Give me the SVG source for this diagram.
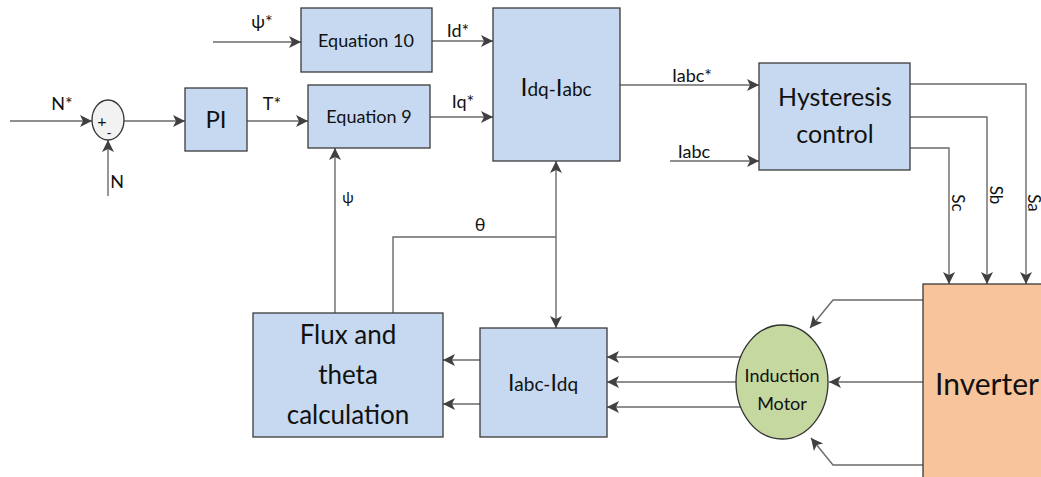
<svg xmlns="http://www.w3.org/2000/svg" width="1041" height="477" viewBox="0 0 1041 477">
  <defs>
    <marker id="arr" markerUnits="userSpaceOnUse" markerWidth="14" markerHeight="14" refX="12" refY="6" orient="auto">
      <path d="M0,0 L12,6 L0,12 L3,6 z" fill="#404040"/>
    </marker>
    <style>
      .box { fill: #c6d9f0; stroke: #3a3a3a; stroke-width: 1.3; }
      .ln { fill: none; stroke: #6a6a6a; stroke-width: 1.4; }
      .ar { marker-end: url(#arr); }
      text { font-family: Lato, "Open Sans", "Liberation Sans", sans-serif; fill: #111; }
      .c { text-anchor: middle; }
      .lbl { font-size: 18px; }
    </style>
  </defs>

  <!-- connectors -->
  <g id="connectors">
    <line class="ln ar" x1="10" y1="121" x2="92" y2="121"/>
    <line class="ln ar" x1="108" y1="196" x2="108" y2="140"/>
    <line class="ln ar" x1="124" y1="121" x2="185" y2="121"/>
    <line class="ln ar" x1="247" y1="121" x2="308" y2="121"/>
    <line class="ln ar" x1="213" y1="42" x2="301" y2="42"/>
    <line class="ln ar" x1="432" y1="41" x2="493" y2="41"/>
    <line class="ln ar" x1="430" y1="117" x2="493" y2="117"/>
    <line class="ln ar" x1="620" y1="85" x2="759" y2="85"/>
    <line class="ln ar" x1="670" y1="161" x2="759" y2="161"/>
    <!-- switching signals to the inverter -->
    <polyline class="ln ar" points="910,84 1026,84 1026,284"/>
    <polyline class="ln ar" points="910,117 987,117 987,284"/>
    <polyline class="ln ar" points="910,148 949,148 949,284"/>
    <!-- inverter to motor -->
    <polyline class="ln ar" points="923,300 833,300 810,328"/>
    <line class="ln ar" x1="923" y1="382" x2="829" y2="382"/>
    <polyline class="ln ar" points="923,465 833,465 811,438"/>
    <!-- motor currents -->
    <line class="ln ar" x1="742" y1="357" x2="607" y2="357"/>
    <line class="ln ar" x1="737" y1="382" x2="607" y2="382"/>
    <line class="ln ar" x1="742" y1="407" x2="607" y2="407"/>
    <!-- Iabc-Idq to flux calculation -->
    <line class="ln ar" x1="480" y1="360" x2="443" y2="360"/>
    <line class="ln ar" x1="480" y1="404" x2="443" y2="404"/>
    <!-- theta path -->
    <polyline class="ln" points="393,313 393,237 556,237"/>
    <line class="ln ar" x1="556" y1="237" x2="556" y2="161"/>
    <line class="ln ar" x1="556" y1="237" x2="556" y2="328"/>
    <!-- flux feedback -->
    <line class="ln ar" x1="335" y1="313" x2="335" y2="148"/>
  </g>

  <!-- connector labels -->
  <g id="labels" class="lbl">
    <text x="62" y="110" class="c">N*</text>
    <text x="117" y="188" class="c">N</text>
    <text x="272" y="110" class="c">T*</text>
    <text x="262" y="28" class="c">ψ*</text>
    <text x="458" y="37" class="c">Id*</text>
    <text x="463" y="108" class="c">Iq*</text>
    <text x="692" y="82" class="c">Iabc*</text>
    <text x="694" y="158" class="c">Iabc</text>
    <text x="348" y="203" class="c" style="font-size:15px">ψ</text>
    <text x="480" y="231" class="c">θ</text>
    <text transform="translate(952,203) rotate(90)" class="c" style="font-size:17px">Sc</text>
    <text transform="translate(990,195) rotate(90)" class="c" style="font-size:17px">Sb</text>
    <text transform="translate(1028,203) rotate(90)" class="c" style="font-size:17px">Sa</text>
  </g>

  <g id="sum">
    <ellipse cx="108" cy="120" rx="16" ry="20" fill="#f2f2f2" stroke="#333" stroke-width="1.3"/>
    <text x="102" y="127" class="c" style="font-size:16px">+</text>
    <text x="109" y="138" class="c" style="font-size:14px">-</text>
  </g>

  <g id="pi">
    <rect class="box" x="185" y="88" width="62" height="63"/>
    <text x="216" y="128" class="c" style="font-size:24px">PI</text>
  </g>

  <g id="eq10">
    <rect class="box" x="301" y="8" width="131" height="64"/>
    <text x="366" y="47" class="c" style="font-size:18px">Equation 10</text>
  </g>

  <g id="eq9">
    <rect class="box" x="308" y="85" width="122" height="63"/>
    <text x="369" y="123" class="c" style="font-size:18px">Equation 9</text>
  </g>

  <g id="dq2abc">
    <rect class="box" x="493" y="8" width="127" height="153"/>
    <text x="556" y="96" class="c" style="font-size:19px"><tspan style="font-size:25px">I</tspan>dq-<tspan style="font-size:24px">I</tspan>abc</text>
  </g>

  <g id="hysteresis">
    <rect class="box" x="759" y="63" width="151" height="107"/>
    <text x="835" y="106" class="c" style="font-size:25px">Hysteresis</text>
    <text x="835" y="143" class="c" style="font-size:25px">control</text>
  </g>

  <g id="inverter">
    <rect x="923" y="284" width="130" height="200" fill="#f8c49b" stroke="#3a3a3a" stroke-width="1.3"/>
    <text x="987" y="395" class="c" style="font-size:30px">Inverter</text>
  </g>

  <g id="motor">
    <ellipse cx="782" cy="382" rx="46" ry="57" fill="#c5d8a0" stroke="#333" stroke-width="1.3"/>
    <text x="782" y="382" class="c" style="font-size:18px">Induction</text>
    <text x="782" y="410" class="c" style="font-size:18px">Motor</text>
  </g>

  <g id="abc2dq">
    <rect class="box" x="480" y="328" width="127" height="109"/>
    <text x="543" y="391" class="c" style="font-size:19px"><tspan style="font-size:23px">I</tspan>abc-<tspan style="font-size:23px">I</tspan>dq</text>
  </g>

  <g id="flux">
    <rect class="box" x="253" y="313" width="190" height="124"/>
    <text x="348" y="344" class="c" style="font-size:26px">Flux and</text>
    <text x="348" y="384" class="c" style="font-size:26px">theta</text>
    <text x="348" y="424" class="c" style="font-size:26px">calculation</text>
  </g>
</svg>
